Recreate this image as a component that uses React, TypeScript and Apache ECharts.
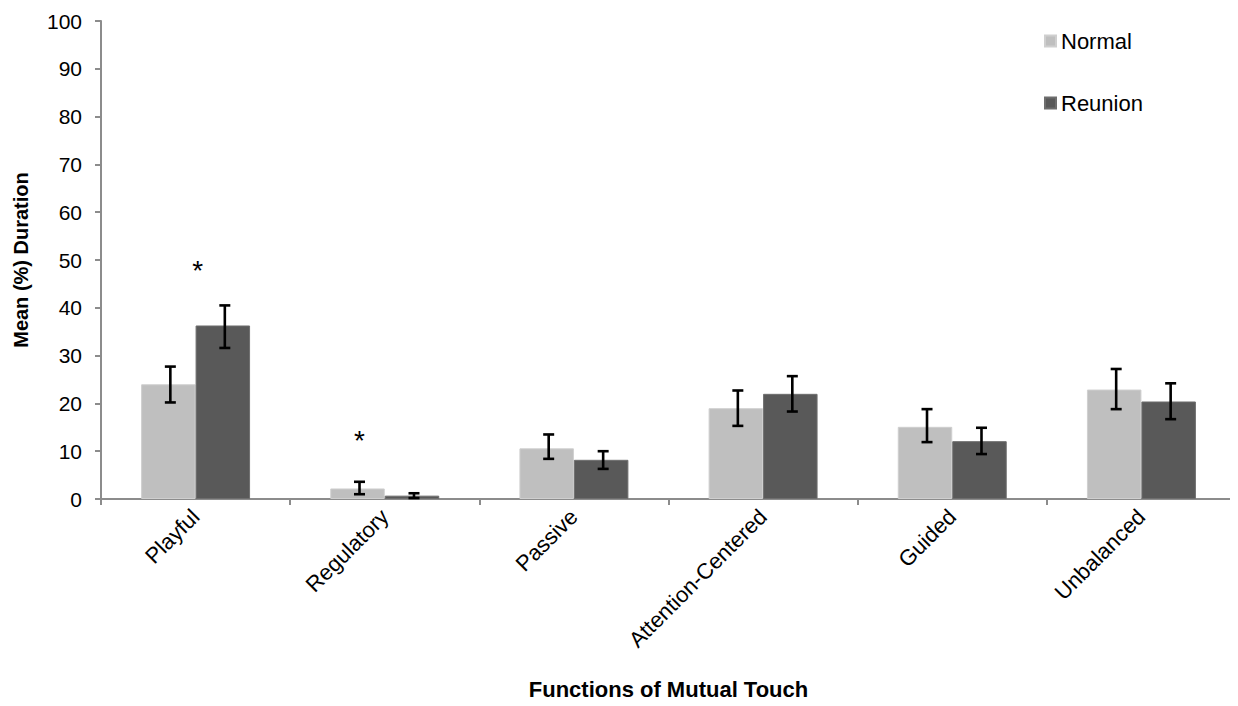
import React, { useEffect, useRef } from "react";
import * as echarts from "echarts";

const categories = ["Playful", "Regulatory", "Passive", "Attention-Centered", "Guided", "Unbalanced"];
const seriesNames = ["Normal", "Reunion"];
const normalValues = [24.0, 2.2, 10.6, 19.0, 15.1, 22.9];
const reunionValues = [36.3, 0.7, 8.2, 22.0, 12.1, 20.4];
const normalErrLow = [20.2, 1.0, 8.4, 15.3, 11.9, 18.8];
const normalErrHigh = [27.7, 3.6, 13.5, 22.7, 18.8, 27.2];
const reunionErrLow = [31.6, 0.2, 6.3, 18.3, 9.4, 16.7];
const reunionErrHigh = [40.5, 1.2, 10.0, 25.7, 14.9, 24.2];
// significance markers: category index, value height, horizontal slot (-1 = over Normal bar, 0 = centre)
const sigCategoryIndex = [0, 1];
const sigValues = [49.2, 13.6];
const sigSlots = [0, -1];
const yTicks = [0, 10, 20, 30, 40, 50, 60, 70, 80, 90, 100];

const FONT = "'Liberation Sans', Arial, sans-serif";
const CAT_GAP = 0.424;

export default function App() {
  const ref = useRef<HTMLDivElement>(null);
  useEffect(() => {
    if (!ref.current) return;
    const chart = echarts.init(ref.current, null, { renderer: "svg" });

    const errData = (lows: number[], highs: number[]) =>
      categories.map((_, i) => [i, lows[i], highs[i]]);

    const makeErr = (slot: number) => (params: any, api: any) => {
      const idx = api.value(0);
      const lo = api.coord([idx, api.value(1)]);
      const hi = api.coord([idx, api.value(2)]);
      const band = api.size([1, 0])[0];
      const bw = (band * (1 - CAT_GAP)) / 2;
      const x = lo[0] + slot * bw / 2 + 2;
      const cap = 5.5;
      const style = { stroke: "#000", lineWidth: 2.6 };
      return {
        type: "group",
        children: [
          { type: "line", shape: { x1: x, y1: lo[1], x2: x, y2: hi[1] }, style },
          { type: "line", shape: { x1: x - cap, y1: lo[1], x2: x + cap, y2: lo[1] }, style },
          { type: "line", shape: { x1: x - cap, y1: hi[1], x2: x + cap, y2: hi[1] }, style },
        ],
      };
    };

    const option: any = {
      animation: false,
      textStyle: { fontFamily: FONT },
      grid: { left: 101, right: 2, top: 21, bottom: 207, containLabel: false },
      legend: {
        data: seriesNames,
        orient: "vertical",
        left: 1044,
        top: 30,
        padding: 0,
        itemWidth: 11,
        itemHeight: 11,
        itemGap: 40,
        icon: "rect",
        textStyle: { fontSize: 22, color: "#000", fontFamily: FONT, padding: [0, 0, 0, 0] },
      },
      xAxis: {
        type: "category",
        data: categories,
        axisLine: { lineStyle: { color: "#8c8c8c", width: 2 } },
        axisTick: { show: true, length: 6, lineStyle: { color: "#8c8c8c", width: 2 } },
        axisLabel: { rotate: 45, fontSize: 22, color: "#000", fontFamily: FONT, margin: 14, interval: 0 },
        name: "Functions of Mutual Touch",
        nameLocation: "middle",
        nameGap: 179,
        nameTextStyle: { fontSize: 22, fontWeight: "bold", color: "#000", fontFamily: FONT },
      },
      yAxis: {
        type: "value",
        min: 0,
        max: 100,
        interval: 10,
        splitLine: { show: false },
        axisLine: { show: true, lineStyle: { color: "#8c8c8c", width: 2 } },
        axisTick: { show: true, length: 6, lineStyle: { color: "#8c8c8c", width: 2 } },
        axisLabel: {
          fontSize: 21,
          color: "#000",
          fontFamily: FONT,
          margin: 19,
          formatter: (v: number) => (yTicks.includes(v) ? String(v) : ""),
        },
        name: "Mean (%) Duration",
        nameLocation: "middle",
        nameGap: 70,
        nameRotate: 90,
        nameTextStyle: { fontSize: 20, fontWeight: "bold", color: "#000", fontFamily: FONT },
      },
      series: [
        {
          name: "Normal",
          type: "bar",
          data: normalValues,
          barGap: "0%",
          barCategoryGap: (CAT_GAP * 100).toFixed(1) + "%",
          itemStyle: { color: "#bfbfbf", borderColor: "#cfcfcf", borderWidth: 1 },
        },
        {
          name: "Reunion",
          type: "bar",
          data: reunionValues,
          barGap: "0%",
          barCategoryGap: (CAT_GAP * 100).toFixed(1) + "%",
          itemStyle: { color: "#595959", borderColor: "#6e6e6e", borderWidth: 1 },
        },
        {
          type: "custom",
          renderItem: makeErr(-1),
          data: errData(normalErrLow, normalErrHigh),
          z: 10,
          silent: true,
        },
        {
          type: "custom",
          renderItem: makeErr(1),
          data: errData(reunionErrLow, reunionErrHigh),
          z: 10,
          silent: true,
        },
        {
          type: "custom",
          data: sigCategoryIndex.map((c, i) => [c, sigValues[i], sigSlots[i]]),
          z: 10,
          silent: true,
          renderItem: (params: any, api: any) => {
            const p = api.coord([api.value(0), api.value(1)]);
            const band = api.size([1, 0])[0];
            const bw = (band * (1 - CAT_GAP)) / 2;
            const x = p[0] + api.value(2) * bw / 2 + 2;
            return {
              type: "text",
              x,
              y: p[1] + 7,
              style: {
                text: "*",
                fontSize: 28,
                fontFamily: FONT,
                fill: "#000",
                align: "center",
                verticalAlign: "middle",
              },
            };
          },
        },
      ],
    };
    chart.setOption(option);
    return () => chart.dispose();
  }, []);
  return <div ref={ref} style={{ width: 1238, height: 706, margin: -8 }} />;
}
